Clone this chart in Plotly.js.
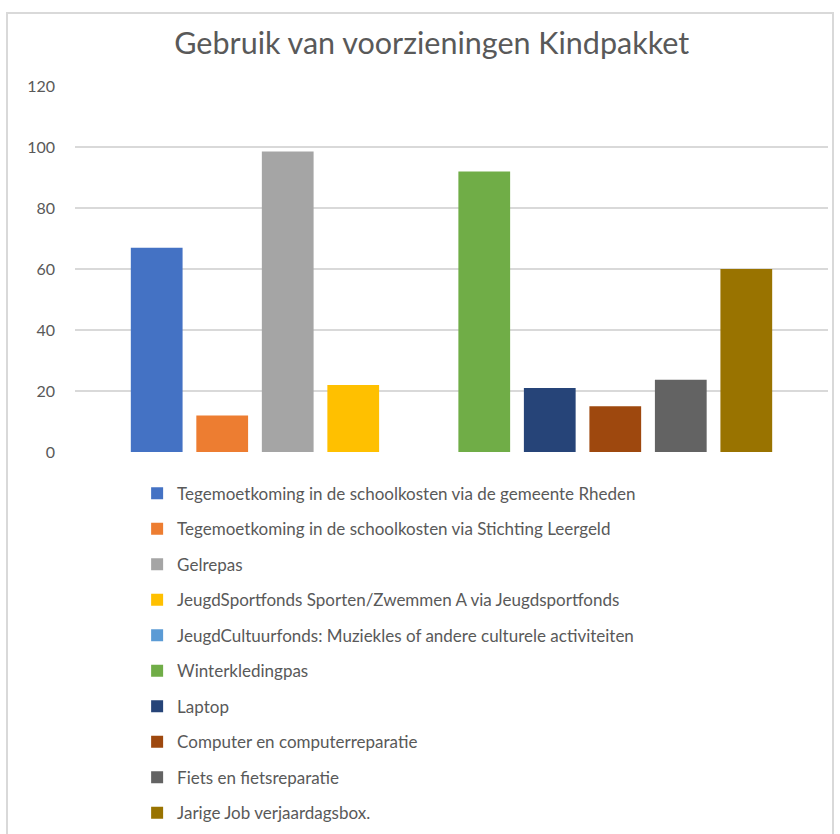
<!DOCTYPE html>
<html>
<head>
<meta charset="utf-8">
<script src="https://cdn.plot.ly/plotly-3.0.1.min.js"></script>
<style>
  html, body { margin: 0; padding: 0; background: #fff; }
  #wrap { position: relative; width: 840px; height: 834px; }
  #chart { width: 840px; height: 834px; }
  #frame { position: absolute; left: 6px; top: 12px; width: 824px; height: 830px;
           border: 2px solid #d9d9d9; pointer-events: none; }
</style>
</head>
<body>
<div id="wrap">
  <div id="chart"></div>
  <div id="frame"></div>
</div>
<script>
const category = ["Kindpakket"];
const seriesNames = [
  "Tegemoetkoming in de schoolkosten via de gemeente Rheden",
  "Tegemoetkoming in de schoolkosten via Stichting Leergeld",
  "Gelrepas",
  "JeugdSportfonds Sporten/Zwemmen A via Jeugdsportfonds",
  "JeugdCultuurfonds: Muziekles of andere culturele activiteiten",
  "Winterkledingpas",
  "Laptop",
  "Computer en computerreparatie",
  "Fiets en fietsreparatie",
  "Jarige Job verjaardagsbox."
];
const seriesValues = [67, 12, 98.5, 22, 0, 92, 21, 15, 23.7, 60];
const seriesColors = ["#4472C4", "#ED7D31", "#A5A5A5", "#FFC000", "#5B9BD5",
                      "#70AD47", "#264478", "#9E480E", "#636363", "#997300"];
const yTicks = [0, 20, 40, 60, 80, 100, 120];

const traces = seriesNames.map((name, i) => ({
  type: "bar",
  name: name,
  x: category,
  y: [seriesValues[i]],
  legendgroup: "g" + i,
  marker: { color: seriesColors[i], line: { width: 0 } },
  hoverinfo: "name+y"
}));

const layout = {
  width: 840,
  height: 834,
  paper_bgcolor: "rgba(0,0,0,0)",
  plot_bgcolor: "rgba(0,0,0,0)",
  font: { family: "Lato, 'Open Sans', sans-serif", color: "#595959" },
  title: {
    text: "Gebruik van voorzieningen Kindpakket",
    font: { size: 30.5, color: "#595959", family: "Lato, sans-serif" },
    x: 0.514, xanchor: "center", y: 0.948, yanchor: "middle"
  },
  margin: { l: 75, r: 12, t: 86, b: 382, autoexpand: false },
  barmode: "group",
  bargap: 0.13,
  bargroupgap: 0.21,
  xaxis: {
    type: "category",
    showticklabels: false,
    showgrid: false,
    zeroline: false,
    showline: false,
    ticks: ""
  },
  yaxis: {
    range: [0, 120],
    tickvals: yTicks,
    ticktext: yTicks.map(String),
    showgrid: true,
    gridcolor: "#d9d9d9",
    gridwidth: 1.5,
    zeroline: false,
    showline: false,
    ticks: "",
    ticklabelstandoff: 19,
    tickfont: { size: 16, color: "#595959" }
  },
  showlegend: true,
  legend: {
    orientation: "v",
    x: 0.0825, xanchor: "left",
    y: -0.065, yanchor: "top",
    tracegroupgap: 10.4,
    font: { size: 17, color: "#595959" },
    bgcolor: "rgba(0,0,0,0)"
  }
};

Plotly.newPlot("chart", traces, layout, { displayModeBar: false, staticPlot: true });
</script>
</body>
</html>
